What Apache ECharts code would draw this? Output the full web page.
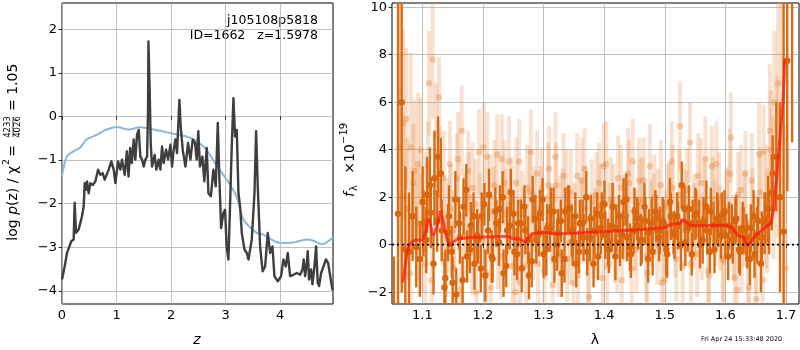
<!DOCTYPE html>
<html><head><meta charset="utf-8">
<script src="https://cdn.jsdelivr.net/npm/echarts@6/dist/echarts.min.js"></script>
<style>html,body{margin:0;padding:0;background:#fff}#c{width:800px;height:350px}</style>
</head><body><div id="c"></div>
<script>
// ---- left panel: log p(z) ----
var zDark = [0,0.049,0.092,0.122,0.171,0.214,0.232,0.257,0.306,0.367,0.398,0.416,0.440,0.459,0.489,0.52,0.563,0.612,0.661,0.703,0.746,0.783,0.856,0.905,0.948,0.979,1.028,1.07,1.10,1.15,1.19,1.22,1.25,1.28,1.315,1.345,1.376,1.407,1.437,1.468,1.498,1.529,1.56,1.578,1.585,1.609,1.627,1.651,1.70,1.73,1.774,1.804,1.835,1.865,1.908,1.945,1.988,2.018,2.049,2.08,2.11,2.153,2.177,2.214,2.263,2.312,2.355,2.398,2.44,2.47,2.50,2.53,2.575,2.61,2.654,2.685,2.73,2.777,2.82,2.857,2.887,2.918,2.96,2.99,3.02,3.052,3.08,3.113,3.144,3.174,3.205,3.236,3.266,3.297,3.346,3.389,3.42,3.48,3.53,3.56,3.59,3.633,3.68,3.725,3.774,3.817,3.86,3.896,3.957,4.018,4.06,4.104,4.14,4.183,4.244,4.305,4.367,4.41,4.433,4.458,4.49,4.507,4.53,4.568,4.593,4.63,4.66,4.69,4.715,4.752,4.795,4.84,4.88,4.91,4.96,4.97];
var logpDark = [-3.74,-3.44,-3.13,-3.17,-2.86,-2.82,-1.98,-2.67,-2.59,-2.29,-2.06,-1.53,-1.68,-1.49,-1.76,-1.53,-1.57,-1.49,-1.22,-1.34,-1.30,-1.45,-1.22,-1.03,-1.22,-1.53,-1.03,-1.22,-0.99,-1.34,-0.80,-1.38,-0.72,-1.07,-0.53,-0.99,-0.42,-0.31,-0.92,-0.99,-1.15,-0.99,-0.92,0.15,1.72,0.53,-0.61,-1.15,-0.88,-1.22,-0.99,-1.22,-0.69,-1.07,-0.76,-0.99,-0.65,-1.15,-0.76,-0.53,-0.84,0.38,-0.23,-0.76,-1.15,-0.61,-0.99,-0.53,-0.61,-0.99,-0.34,-1.15,-0.92,-1.49,-0.72,-1.76,-1.83,-1.22,-1.60,-0.15,-1.45,-2.56,-2.21,-2.14,-2.98,-3.28,-2.14,-0.69,0.42,-0.46,-0.31,-1.76,-2.06,-2.67,-3.05,-3.13,-3.28,-2.82,-1.76,-0.34,-1.60,-2.98,-3.55,-3.44,-2.67,-3.13,-2.98,-3.66,-3.78,-3.66,-3.28,-3.44,-3.13,-3.66,-3.63,-3.59,-3.63,-3.51,-3.28,-3.66,-3.36,-3.09,-3.74,-3.51,-3.85,-3.44,-2.98,-3.82,-3.89,-3.59,-3.44,-3.28,-3.36,-3.59,-3.97,-3.95];
var zBlue = [0,0.086,0.21,0.33,0.45,0.64,0.82,1.0,1.22,1.43,1.68,1.98,2.28,2.47,2.65,2.84,3.02,3.20,3.33,3.57,3.69,4.0,4.24,4.49,4.61,4.77,4.97];
var chi2Blue = [-1.37,-0.92,-0.80,-0.72,-0.53,-0.42,-0.30,-0.24,-0.30,-0.25,-0.30,-0.38,-0.46,-0.57,-0.76,-1.14,-1.45,-1.83,-2.37,-2.67,-2.71,-2.90,-2.89,-2.82,-2.85,-2.93,-2.77];
var zTicks = [0,1,2,3,4];
var logpTicks = [-4,-3,-2,-1,0,1,2];

// ---- right panel: spectrum ----
var lamDark = [1.053,1.060,1.066,1.072,1.078,1.084,1.090,1.096,1.102,1.108,1.114,1.120,1.126,1.132,1.138,1.144,1.150,1.156,1.162,1.168,1.174,1.180,1.186,1.192,1.198,1.204,1.210,1.216,1.222,1.228,1.234,1.240,1.246,1.252,1.258,1.264,1.270,1.276,1.282,1.288,1.294,1.300,1.306,1.312,1.318,1.324,1.330,1.336,1.342,1.348,1.354,1.360,1.366,1.372,1.378,1.384,1.390,1.396,1.402,1.408,1.414,1.420,1.426,1.432,1.438,1.444,1.450,1.456,1.462,1.468,1.474,1.480,1.486,1.492,1.498,1.504,1.510,1.516,1.522,1.528,1.534,1.540,1.546,1.552,1.558,1.564,1.570,1.576,1.582,1.588,1.594,1.600,1.606,1.612,1.618,1.624,1.630,1.636,1.642,1.648,1.654,1.660,1.666,1.672,1.678,1.684,1.690,1.696,1.702,1.710];
var fluxDark = [-5.0,1.3,6.0,-0.2,-0.3,1.2,-0.1,-0.6,0.9,2.1,1.35,2.8,3.7,0.6,-1.4,1.2,-1.6,-2.1,0.3,1.6,-0.5,0.8,-0.8,0.2,1.2,-1.3,2.1,-0.6,0.9,1.5,-1.2,0.6,2.2,-0.3,0.9,-1.0,0.6,-1.3,1.9,0.2,1.3,-0.4,0.7,1.4,-0.6,0.5,-1.2,1.4,1.5,0.1,-0.8,0.9,0.3,-0.3,1.1,0.6,-0.5,1.2,0.4,-0.2,1.6,0.7,0.1,1.8,0.3,-0.4,1.4,0.8,0.2,1.0,0.5,-0.3,1.1,0.6,0.9,-0.4,1.2,0.4,0.8,2.5,0.1,1.5,0.9,1.3,0.0,1.0,0.6,1.4,-0.2,0.9,1.2,0.4,0.8,0.2,1.1,-0.3,0.6,0.0,0.7,-0.4,1.0,0.3,1.1,0.9,3.0,3.7,2.0,0.55,7.75,10.8];
var errDark = [4.5,9.0,8.0,3.5,2.5,1.9,1.7,1.6,1.4,1.6,1.5,2.0,1.7,1.3,1.2,1.3,1.1,1.1,1.1,1.2,1.1,1.0,1.1,1.0,1.0,1.1,1.1,1.0,1.0,1.0,1.0,1.0,1.0,1.0,1.0,1.0,1.0,1.0,1.0,1.0,1.0,1.0,1.0,1.0,1.0,1.0,1.0,1.0,1.0,1.0,1.0,1.0,1.0,1.0,1.0,1.0,1.0,1.0,1.0,1.0,1.0,1.0,1.0,1.0,1.0,1.0,1.0,1.0,1.0,1.0,1.0,1.0,1.0,1.0,1.0,1.0,1.0,1.0,1.0,1.0,1.0,1.0,1.0,1.0,1.0,1.0,1.0,1.0,1.0,1.0,1.0,1.0,1.0,1.0,1.0,1.0,1.0,1.0,1.0,1.0,1.0,1.1,1.1,1.3,1.6,2.3,4.0,10.0,5.5,6.5];
var lamDark2 = [1.1005,1.1065,1.1125,1.1185,1.1245,1.1305,1.1365,1.1425,1.1485,1.1545,
  1.1605,1.1665,1.1725,1.1785,1.1845,1.1905,1.1965,1.2025,1.2085,1.2145,
  1.2205,1.2265,1.2325,1.2385,1.2445,1.2505,1.2565,1.2625,1.2685,1.2745,
  1.2805,1.2865,1.2925,1.2985,1.3045,1.3105,1.3165,1.3225,1.3285,1.3345,
  1.3405,1.3465,1.3525,1.3585,1.3645,1.3705,1.3765,1.3825,1.3885,1.3945,
  1.4005,1.4065,1.4125,1.4185,1.4245,1.4305,1.4365,1.4425,1.4485,1.4545,
  1.4605,1.4665,1.4725,1.4785,1.4845,1.4905,1.4965,1.5025,1.5085,1.5145,
  1.5205,1.5265,1.5325,1.5385,1.5445,1.5505,1.5565,1.5625,1.5685,1.5745,
  1.5805,1.5865,1.5925,1.5985,1.6045,1.6105,1.6165,1.6225,1.6285,1.6345,
  1.6405,1.6465,1.6525,1.6585,1.6645,1.6705,1.6765];
var fluxDark2 = [1.8,0.2,2.5,-0.8,1.0,3.0,-1.8,0.5,-0.3,1.9,
  0.9,-1.5,2.3,-0.2,1.2,0.4,-1.0,1.7,0.6,-0.5,
  1.4,0.1,2.0,-0.9,0.8,1.3,-0.4,0.9,1.6,0.2,
  -0.7,1.1,0.5,1.9,-0.2,0.7,1.4,0.0,1.0,-0.6,
  1.5,0.6,1.2,-0.3,0.9,2.0,0.3,-0.8,1.3,0.7,
  1.7,0.1,0.8,-0.5,1.2,0.4,1.9,-0.1,0.6,1.1,
  0.2,1.6,-0.6,0.9,1.4,0.3,1.0,-0.2,1.8,0.5,
  1.2,0.0,1.5,0.7,-0.4,1.3,0.9,0.2,1.6,-0.3,
  0.8,1.1,0.4,1.4,-0.5,0.6,1.0,-0.2,0.7,0.3,
  -0.6,1.2,0.4,-0.8,0.9,1.5,2.2];
var errDark2 = [1.5,1.4,1.6,1.3,1.3,1.5,1.2,1.2,1.1,1.2,
  1.1,1.0,1.1,1.0,1.0,1.1,1.0,0.9,1.0,1.1,
  1.0,1.0,1.1,0.9,1.0,1.0,1.1,1.0,0.9,1.0,
  1.1,1.0,1.0,0.9,1.1,1.0,1.0,1.1,0.9,1.0,
  1.0,1.1,1.0,0.9,1.0,1.1,1.0,1.0,0.9,1.1,
  1.0,1.0,1.1,1.0,0.9,1.0,1.1,1.0,1.0,0.9,
  1.1,1.0,1.0,1.1,0.9,1.0,1.0,1.1,1.0,0.9,
  1.0,1.1,1.0,1.0,0.9,1.1,1.0,1.0,1.1,0.9,
  1.0,1.1,1.0,0.9,1.0,1.1,1.0,1.0,1.1,1.0,
  1.1,1.1,1.2,1.2,1.3,1.4,1.6];
var lamLight = [1.063,1.069,1.075,1.081,1.087,1.093,1.099,1.105,1.111,1.117,1.123,1.129,1.135,1.141,1.147,1.153,1.159,1.165,1.171,1.177,1.183,1.189,1.195,1.201,1.207,1.213,1.219,1.225,1.231,1.237,1.243,1.249,1.255,1.261,1.267,1.273,1.279,1.285,1.291,1.297,1.303,1.309,1.315,1.321,1.327,1.333,1.339,1.345,1.351,1.357,1.363,1.369,1.375,1.381,1.387,1.393,1.399,1.405,1.411,1.417,1.423,1.429,1.435,1.441,1.447,1.453,1.459,1.465,1.471,1.477,1.483,1.489,1.495,1.501,1.507,1.513,1.519,1.525,1.531,1.537,1.543,1.549,1.555,1.561,1.567,1.573,1.579,1.585,1.591,1.597,1.603,1.609,1.615,1.621,1.627,1.633,1.639,1.645,1.651,1.657,1.663,1.669,1.675,1.681,1.687,1.693,1.699];
var fluxLight = [6.4,5.1,1.5,4.1,3.1,3.4,0.5,-0.8,6.8,7.8,4.6,3.0,2.8,0.8,1.5,-1.0,3.6,4.8,0.4,2.0,2.4,-2.0,1.1,4.1,3.7,-1.8,2.5,0.0,3.6,1.3,3.5,-0.9,2.6,-1.6,0.6,2.4,3.9,1.5,-0.8,2.3,0.3,3.2,-1.7,2.5,1.1,2.9,-0.6,2.2,0.8,-1.3,2.7,1.5,-2.2,0.4,2.1,1.6,3.3,-0.9,1.9,0.2,2.8,-1.5,1.2,2.6,3.5,-0.2,1.8,2.7,-1.2,0.9,2.0,1.4,-1.6,0.5,1.7,2.4,-0.6,5.0,1.6,2.3,-0.8,1.2,2.9,0.3,3.6,-1.3,1.9,3.4,0.7,-0.7,1.5,4.5,-1.4,2.1,-0.2,3.0,-1.8,1.3,-2.3,2.2,3.9,1.0,4.0,6.0,6.8,5.4,-1.0];
var errLight = [5.0,4.0,3.0,4.0,3.0,3.0,2.5,2.0,2.2,2.5,2.2,2.0,2.0,2.0,1.9,2.0,2.0,1.9,1.9,1.9,1.9,1.9,1.9,1.9,1.9,1.9,1.9,1.9,1.9,1.9,1.9,1.9,1.9,1.9,1.8,1.8,1.8,1.8,1.8,1.8,1.8,1.8,1.8,1.8,1.8,1.8,1.8,1.8,1.8,1.8,1.8,1.8,1.8,1.8,1.8,1.8,1.8,1.8,1.8,1.8,1.8,1.8,1.8,1.8,1.8,1.8,1.8,1.8,1.8,1.8,1.8,1.8,1.8,1.8,1.8,1.8,1.8,1.9,1.8,1.8,1.8,1.8,1.8,1.8,1.8,1.8,1.8,1.8,1.8,1.8,1.8,1.9,1.8,1.8,1.8,1.8,1.9,1.9,1.9,1.9,2.0,2.2,2.5,3.0,4.0,5.0,6.0];
var lamLight2 = [1.0615,1.0675,1.0735,1.0795,1.0855,1.0915,1.0975,1.1035,1.1095,1.1155,
  1.1215,1.1275,1.1335,1.1395,1.1455,1.1515,1.1575,1.1635,1.1695,1.1755,
  1.1815,1.1875,1.1935,1.1995,1.2055,1.2115,1.2175,1.2235,1.2295,1.2355,
  1.2415,1.2475,1.2535,1.2595,1.2655,1.2715,1.2775,1.2835,1.2895,1.2955,
  1.3015,1.3075,1.3135,1.3195,1.3255,1.3315,1.3375,1.3435,1.3495,1.3555,
  1.3615,1.3675,1.3735,1.3795,1.3855,1.3915,1.3975,1.4035,1.4095,1.4155,
  1.4215,1.4275,1.4335,1.4395,1.4455,1.4515,1.4575,1.4635,1.4695,1.4755,
  1.4815,1.4875,1.4935,1.4995,1.5055,1.5115,1.5175,1.5235,1.5295,1.5355,
  1.5415,1.5475,1.5535,1.5595,1.5655,1.5715,1.5775,1.5835,1.5895,1.5955,
  1.6015,1.6075,1.6135,1.6195,1.6255,1.6315,1.6375,1.6435,1.6495,1.6555,
  1.6615,1.6675,1.6735,1.6795,1.6855];
var fluxLight2 = [4.1,2.0,5.3,-1.2,2.6,0.9,4.0,1.8,3.3,-1.5,
  2.2,6.2,1.0,-0.4,3.4,0.6,2.8,-1.9,1.2,3.1,
  -0.3,1.7,3.9,0.2,-1.2,2.0,1.4,3.8,-0.5,2.6,
  0.7,1.9,-2.0,3.5,1.3,-0.9,2.2,0.4,3.0,1.6,
  -1.1,2.5,0.9,3.7,-0.4,1.4,2.3,0.1,-1.6,2.9,
  1.0,3.2,-0.7,1.8,0.5,2.6,-1.4,3.4,0.8,1.5,
  -0.3,2.4,1.1,3.0,-1.0,0.6,2.7,1.9,-0.5,3.3,
  1.2,0.0,2.5,-1.5,1.6,3.5,0.4,2.1,-0.9,1.3,
  4.3,0.8,-0.4,2.6,1.7,-1.1,3.3,0.9,2.0,-0.6,
  1.4,3.0,0.3,-1.9,2.3,1.1,-0.8,2.7,0.0,3.8,
  -1.5,1.6,4.8,2.4,3.7];
var errLight2 = [4.0,3.5,3.0,2.8,2.5,2.4,2.2,2.1,1.9,1.9,
  1.8,1.7,1.9,1.8,1.8,1.7,1.9,1.8,1.8,1.7,
  1.8,1.9,1.8,1.7,1.8,1.8,1.9,1.7,1.8,1.8,
  1.7,1.8,1.9,1.8,1.8,1.7,1.8,1.9,1.8,1.7,
  1.8,1.8,1.7,1.9,1.8,1.8,1.7,1.8,1.9,1.8,
  1.8,1.7,1.8,1.8,1.9,1.7,1.8,1.8,1.8,1.9,
  1.7,1.8,1.8,1.9,1.8,1.7,1.8,1.8,1.9,1.8,
  1.8,1.7,1.9,1.8,1.8,1.7,1.8,1.9,1.8,1.8,
  1.7,1.8,1.8,1.9,1.8,1.8,1.7,1.8,1.9,1.8,
  1.8,1.9,1.8,1.8,1.9,2.0,1.9,2.0,2.1,2.2,
  2.4,2.6,2.8,3.0,3.4];
var lamModel = [1.068,1.075,1.080,1.085,1.090,1.100,1.105,1.110,1.115,1.118,1.125,1.130,1.135,1.140,1.145,1.150,1.160,1.180,1.200,1.220,1.240,1.250,1.260,1.270,1.280,1.290,1.310,1.320,1.350,1.400,1.450,1.500,1.510,1.525,1.530,1.540,1.550,1.600,1.610,1.620,1.630,1.635,1.640,1.650,1.660,1.670,1.675,1.680,1.685,1.690,1.695,1.698];
var fluxModel = [-1.6,-0.3,0.05,0.15,0.2,0.2,0.5,1.1,0.7,0.4,0.8,1.45,0.9,0.3,-0.05,0.1,0.25,0.3,0.32,0.33,0.35,0.25,0.25,0.1,0.45,0.5,0.5,0.45,0.48,0.55,0.62,0.72,0.85,0.9,1.05,0.85,0.8,0.82,0.75,0.4,0.3,0.0,0.05,0.4,0.6,0.8,0.9,1.5,3.0,4.5,6.0,7.8];
var lamTicks = [1.1,1.2,1.3,1.4,1.5,1.6,1.7];
var fluxTicks = [-2,0,2,4,6,8,10];

var FONT = 'DejaVu Sans';
function zip3(a,b,c){var r=[],n=Math.min(a.length,b.length,c.length);for(var i=0;i<n;i++)r.push([a[i],b[i],c[i]]);return r;}
function zip2(a,b){var r=[],n=Math.min(a.length,b.length);for(var i=0;i<n;i++)r.push([a[i],b[i]]);return r;}

function errRender(color, dot, lw, r){
  return function(params, api){
    var x=api.value(0), y=api.value(1), e=api.value(2);
    var p0=api.coord([x,y-e]), p1=api.coord([x,y+e]), pc=api.coord([x,y]);
    return {type:'group',children:[
      {type:'line',shape:{x1:p0[0],y1:p0[1],x2:p1[0],y2:p1[1]},style:{stroke:color,lineWidth:lw}},
      {type:'circle',shape:{cx:pc[0],cy:pc[1],r:r},style:{fill:dot}}
    ]};
  };
}

function axisCommon(ticks){
  return {
    axisLine:{show:false},
    axisTick:{show:true,inside:false,length:3.5,lineStyle:{color:'#000',width:0.8},customValues:ticks},
    axisLabel:{color:'#000',fontSize:13,fontFamily:FONT,margin:5,customValues:ticks,
      formatter:function(v){return (v<0?'\u2212':'')+Math.abs(v);}},
    splitLine:{show:true,lineStyle:{color:'#b0b0b0',width:0.8}}
  };
}

var chart = echarts.init(document.getElementById('c'), null, {renderer:'canvas'});
var gridStyle = {show:true,borderColor:'#000',borderWidth:1,backgroundColor:'transparent',containLabel:false};
var lightBar='rgba(232,140,70,0.26)', lightDot='rgba(228,130,55,0.36)';
var darkBar='#da6b12', darkDot='#d9650c';
var option = {
  animation:false,
  backgroundColor:'#fff',
  grid:[
    Object.assign({left:62,top:3,width:271,height:301},gridStyle),
    Object.assign({left:392,top:3,width:407,height:301},gridStyle)
  ],
  xAxis:[
    Object.assign({type:'value',gridIndex:0,min:0,max:4.97},axisCommon(zTicks)),
    Object.assign({type:'value',gridIndex:1,min:1.05,max:1.7214},axisCommon(lamTicks))
  ],
  yAxis:[
    Object.assign({type:'value',gridIndex:0,min:-4.3,max:2.6},axisCommon(logpTicks)),
    Object.assign({type:'value',gridIndex:1,min:-2.5,max:10.18},axisCommon(fluxTicks))
  ],
  series:[
    {type:'line',xAxisIndex:0,yAxisIndex:0,data:zip2(zBlue,chi2Blue),showSymbol:false,smooth:0.3,
      lineStyle:{color:'#8ab8dc',width:2},z:2},
    {type:'line',xAxisIndex:0,yAxisIndex:0,data:zip2(zDark,logpDark),showSymbol:false,
      lineStyle:{color:'#3e3e3e',width:2.4,join:'round'},z:3},
    {type:'custom',xAxisIndex:1,yAxisIndex:1,clip:true,data:zip3(lamLight,fluxLight,errLight),
      renderItem:errRender(lightBar,lightDot,4,3.2),z:2},
    {type:'custom',xAxisIndex:1,yAxisIndex:1,clip:true,data:zip3(lamLight2,fluxLight2,errLight2),
      renderItem:errRender(lightBar,lightDot,4,3.2),z:2},
    {type:'custom',xAxisIndex:1,yAxisIndex:1,clip:true,data:zip3(lamDark,fluxDark,errDark),
      renderItem:errRender(darkBar,darkDot,2.4,3.2),z:3},
    {type:'custom',xAxisIndex:1,yAxisIndex:1,clip:true,data:zip3(lamDark2,fluxDark2,errDark2),
      renderItem:errRender(darkBar,darkDot,2.4,3.2),z:3},
    {type:'line',xAxisIndex:1,yAxisIndex:1,data:zip2(lamModel,fluxModel),showSymbol:false,clip:true,
      lineStyle:{color:'rgba(255,20,10,0.7)',width:3},z:4},
    {type:'line',xAxisIndex:1,yAxisIndex:1,data:[[1.05,0],[1.7214,0]],showSymbol:false,
      lineStyle:{color:'#000',width:1.8,type:[2,3]},z:5}
  ],
  graphic:[
    {type:'text',x:318,y:21,style:{text:'j105108p5818',font:'12.5px "DejaVu Sans"',fill:'#000',align:'right',verticalAlign:'middle'}},
    {type:'text',x:318,y:36,style:{text:'ID=1662   z=1.5978',font:'12.5px "DejaVu Sans"',fill:'#000',align:'right',verticalAlign:'middle'}},
    {type:'text',x:197,y:340,style:{text:'z',font:'italic 14px "DejaVu Sans"',fill:'#000',align:'center',verticalAlign:'middle'}},
    {type:'text',x:595,y:340,style:{text:'\u03bb',font:'14px "DejaVu Sans"',fill:'#000',align:'center',verticalAlign:'middle'}},
    {type:'text',x:701,y:339,style:{text:'Fri Apr 24 15:33:48 2020',font:'6.5px "DejaVu Sans"',fill:'#000',align:'left',verticalAlign:'middle'}},
    {type:'group',x:13,y:157,rotation:Math.PI/2,children:[
      {type:'text',x:-9,y:0,style:{text:'{n|log }{i|p}{n|(z) / \u03c7}',align:'right',verticalAlign:'middle',fill:'#000',
        rich:{n:{font:'14px "DejaVu Sans"',fill:'#000'},i:{font:'italic 14px "DejaVu Sans"',fill:'#000'}}}},
      {type:'text',x:-8,y:-6,style:{text:'2',font:'9.5px "DejaVu Sans"',fill:'#000',align:'left',verticalAlign:'middle'}},
      {type:'text',x:6,y:0,style:{text:'=',font:'14px "DejaVu Sans"',fill:'#000',align:'center',verticalAlign:'middle'}},
      {type:'text',x:30,y:-5,style:{text:'4233',font:'8.5px "DejaVu Sans"',fill:'#000',align:'center',verticalAlign:'middle'}},
      {type:'line',shape:{x1:20,y1:0,x2:40,y2:0},style:{stroke:'#000',lineWidth:0.7}},
      {type:'text',x:30,y:5,style:{text:'4026',font:'8.5px "DejaVu Sans"',fill:'#000',align:'center',verticalAlign:'middle'}},
      {type:'text',x:46,y:0,style:{text:'= 1.05',font:'14px "DejaVu Sans"',fill:'#000',align:'left',verticalAlign:'middle'}}
    ]},
    {type:'group',x:350,y:160,rotation:Math.PI/2,children:[
      {type:'text',x:-37,y:0,style:{text:'f',font:'italic 14px "DejaVu Sans"',fill:'#000',align:'left',verticalAlign:'middle'}},
      {type:'text',x:-31,y:4,style:{text:'\u03bb',font:'10px "DejaVu Sans"',fill:'#000',align:'left',verticalAlign:'middle'}},
      {type:'text',x:-8,y:0,style:{text:'\u00d7',font:'14px "DejaVu Sans"',fill:'#000',align:'center',verticalAlign:'middle'}},
      {type:'text',x:-2,y:0,style:{text:'10',font:'14px "DejaVu Sans"',fill:'#000',align:'left',verticalAlign:'middle'}},
      {type:'text',x:16,y:-6,style:{text:'\u221219',font:'10px "DejaVu Sans"',fill:'#000',align:'left',verticalAlign:'middle'}}
    ]}
  ]
};
chart.setOption(option);
</script>
</body></html>
